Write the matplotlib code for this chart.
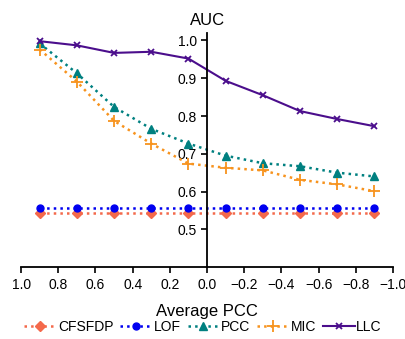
import matplotlib
matplotlib.use("Agg")
import matplotlib.pyplot as plt

plt.rcParams['font.family'] = ['Liberation Sans', 'DejaVu Sans']

pcc = [0.9, 0.7, 0.5, 0.3, 0.1, -0.1, -0.3, -0.5, -0.7, -0.9]
cfsfdp = [0.542] * 10
lof = [0.556] * 10
pcc_auc = [0.992, 0.913, 0.824, 0.766, 0.727, 0.695, 0.675, 0.667, 0.650, 0.640]
mic = [0.976, 0.891, 0.787, 0.727, 0.674, 0.663, 0.656, 0.631, 0.619, 0.601]
llc = [0.998, 0.987, 0.967, 0.970, 0.952, 0.893, 0.855, 0.813, 0.792, 0.773]

fig = plt.figure(figsize=(4.06, 3.39), dpi=100)
ax = fig.add_axes([0.052, 0.212, 0.916, 0.691])

ax.plot(pcc, cfsfdp, ':', color='#F4694B', marker='D', markersize=5, linewidth=1.8, label='CFSFDP')
ax.plot(pcc, lof, ':', color='#0000F0', marker='o', markersize=5, linewidth=1.8, label='LOF')
ax.plot(pcc, pcc_auc, ':', color='#008080', marker='^', markersize=6, linewidth=1.8, label='PCC')
ax.plot(pcc, mic, ':', color='#F7931E', marker='+', markersize=8, markeredgewidth=1.3, linewidth=1.8, label='MIC')
ax.plot(pcc, llc, '-', color='#4B0E8C', marker='x', markersize=5, markeredgewidth=1.3, linewidth=1.5, label='LLC')

ax.set_xlim(1.0, -1.0)
ax.set_ylim(0.4, 1.02)
ax.set_xticks([1.0, 0.8, 0.6, 0.4, 0.2, 0.0, -0.2, -0.4, -0.6, -0.8, -1.0])
ax.set_xticklabels(['1.0', '0.8', '0.6', '0.4', '0.2', '0.0', '\u22120.2', '\u22120.4', '\u22120.6', '\u22120.8', '\u22121.0'])
ax.set_yticks([0.5, 0.6, 0.7, 0.8, 0.9, 1.0])

ax.spines['left'].set_position(('data', 0.0))
ax.spines['right'].set_visible(False)
ax.spines['top'].set_visible(False)
ax.spines['left'].set_linewidth(1.3)
ax.spines['bottom'].set_linewidth(1.3)
ax.tick_params(labelsize=10, width=1.2, length=4)

ax.set_title('AUC', fontsize=12, pad=6)
ax.set_xlabel('Average PCC', fontsize=12, labelpad=9)

fig.legend(loc='center', bbox_to_anchor=(0.5, 0.035), ncol=5, frameon=False, fontsize=10,
           handlelength=2.3, columnspacing=0.5, handletextpad=0.1)

fig.savefig('out.png', dpi=100)
